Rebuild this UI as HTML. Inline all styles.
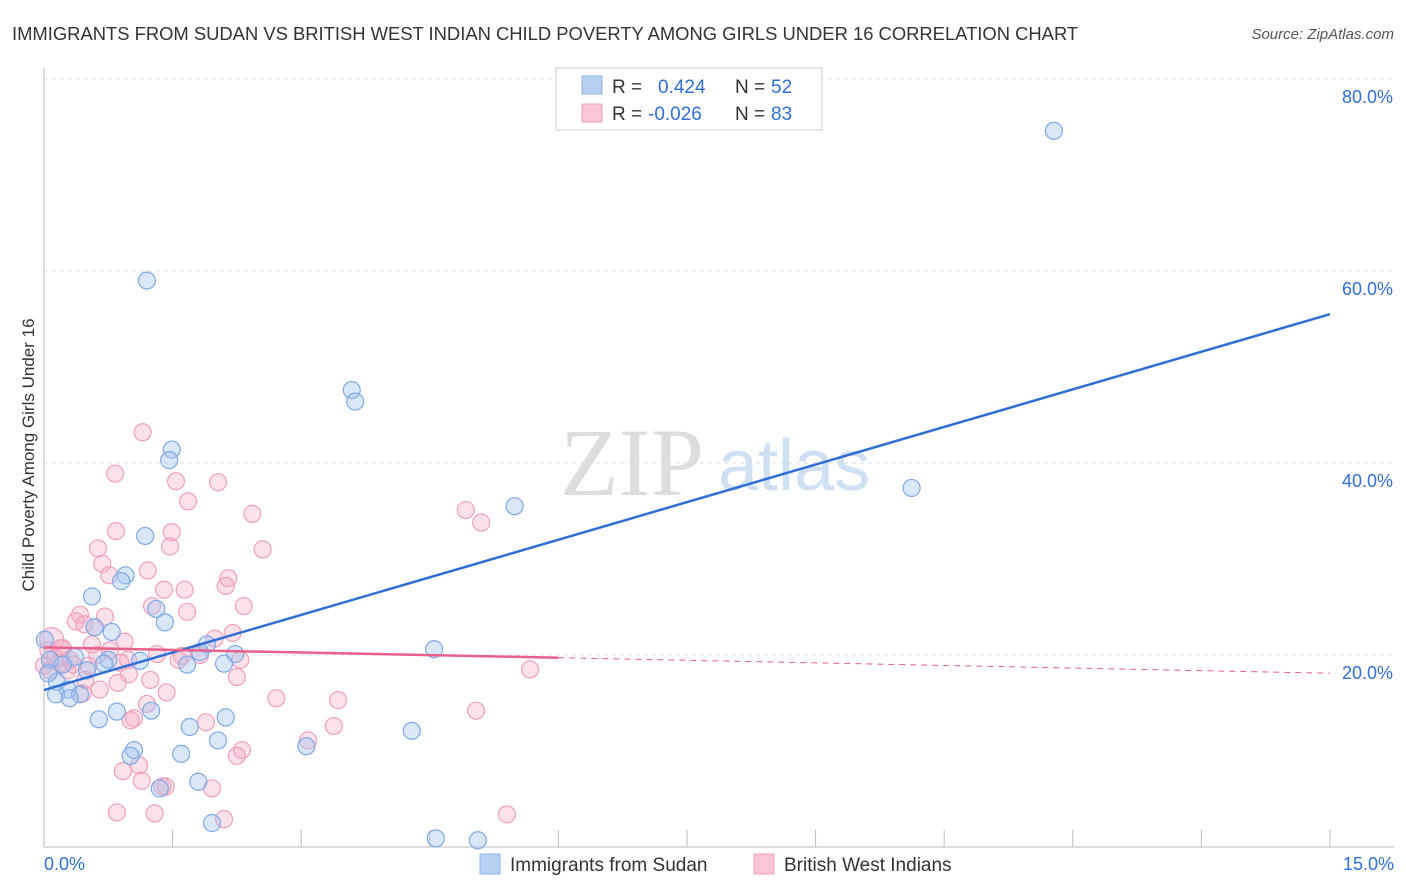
<!DOCTYPE html>
<html><head><meta charset="utf-8"><style>
body{margin:0;background:#fff;font-family:"Liberation Sans",sans-serif;}
svg{display:block}
</style></head><body>
<svg id="chart" width="1406" height="892" xmlns="http://www.w3.org/2000/svg">
<text x="12" y="40" font-size="18.4" fill="#333">IMMIGRANTS FROM SUDAN VS BRITISH WEST INDIAN CHILD POVERTY AMONG GIRLS UNDER 16 CORRELATION CHART</text>
<text x="1394" y="39" font-size="15" fill="#555" font-style="italic" text-anchor="end">Source: ZipAtlas.com</text>
<text transform="translate(34,455) rotate(-90)" font-size="17" fill="#333" text-anchor="middle">Child Poverty Among Girls Under 16</text>
<text x="560" y="495" font-size="96" fill="#ddd" font-family="Liberation Serif, serif">ZIP</text>
<text x="718" y="490" font-size="72" fill="#cfe0f3">atlas</text>
<g id="grid"></g><g id="axes"></g><g id="pts"></g><g id="lines"></g>
<g>
<rect x="556" y="68" width="266" height="62" fill="#fff" stroke="#ccc"/>
<rect x="582" y="76" width="20" height="18" fill="#b8d1f3" stroke="#8ab4e8"/>
<rect x="582" y="104" width="20" height="18" fill="#f8c6d6" stroke="#f0a0bc"/>
<text x="612" y="93" font-size="19" fill="#333">R =</text>
<text x="658" y="93" font-size="19" fill="#2f6fd6">0.424</text>
<text x="735" y="93" font-size="19" fill="#333">N =</text>
<text x="771" y="93" font-size="19" fill="#2f6fd6">52</text>
<text x="612" y="120" font-size="19" fill="#333">R =</text>
<text x="648" y="120" font-size="19" fill="#2f6fd6">-0.026</text>
<text x="735" y="120" font-size="19" fill="#333">N =</text>
<text x="771" y="120" font-size="19" fill="#2f6fd6">83</text>
</g>
<g>
<rect x="480" y="854" width="20" height="20" fill="#b8d1f3" stroke="#8ab4e8"/>
<text x="510" y="871" font-size="19" fill="#333">Immigrants from Sudan</text>
<rect x="754" y="854" width="20" height="20" fill="#f8c6d6" stroke="#f0a0bc"/>
<text x="784" y="871" font-size="19" fill="#333">British West Indians</text>
</g>
</svg>
<script>
const yTicks=[20,40,60,80];
const xTickLabels=["0.0%","15.0%"];
const blueX=[1.20,11.78,3.59,3.63,1.49,1.46,5.49,10.12,1.18,0.95,0.90,0.56,1.31,1.41,0.79,0.59,1.90,1.82,2.23,4.55,2.10,1.67,1.12,0.75,0.70,0.36,0.07,0.22,0.50,0.15,0.28,0.42,0.14,0.30,0.85,1.25,0.64,1.70,2.12,2.03,3.06,4.29,1.05,1.01,1.60,1.80,1.35,1.96,4.57,5.06,0.01,0.05];
const blueY=[59.0,74.6,47.6,46.4,41.4,40.3,35.5,37.4,32.4,28.3,27.7,26.1,24.8,23.4,22.4,22.9,21.1,20.3,20.1,20.6,19.1,19.0,19.4,19.5,19.1,19.8,19.5,19.0,18.4,17.2,16.4,15.9,15.9,15.5,14.1,14.2,13.3,12.5,13.5,11.1,10.5,12.1,10.1,9.5,9.7,6.8,6.1,2.5,0.9,0.7,21.6,18.1];
const pinkX=[1.15,0.83,1.54,2.03,1.68,2.43,4.92,5.10,0.84,1.49,0.63,1.47,2.55,0.68,1.21,0.76,2.15,2.12,1.40,1.64,1.26,2.33,1.67,0.42,0.71,0.37,0.47,0.59,2.20,0.94,1.99,0.09,0.56,0.22,0.05,1.32,1.61,0.62,0.13,0.98,1.57,0.89,0.19,0.34,0.52,0.0,0.27,0.99,2.25,0.86,5.67,1.43,0.45,2.71,3.43,1.20,1.89,1.05,1.01,3.38,5.04,3.08,2.31,2.25,0.92,1.11,1.14,1.42,1.96,1.38,0.85,1.29,2.10,5.40,0.19,0.30,0.77,1.82,0.48,1.24,2.29,0.65,0.07];
const pinkY=[43.2,38.9,38.1,38.0,36.0,34.7,35.1,33.8,32.9,32.8,31.1,31.3,31.0,29.5,28.8,28.3,28.0,27.2,26.8,26.8,25.1,25.1,24.5,24.2,24.0,23.5,23.2,22.9,22.3,21.4,21.7,21.6,21.1,20.7,20.5,20.1,19.9,20.0,19.7,19.5,19.5,19.2,19.1,19.0,18.9,18.9,18.4,18.0,17.7,17.1,18.5,16.1,16.0,15.5,15.3,14.9,13.0,13.4,13.2,12.6,14.2,11.1,10.1,9.5,7.9,8.5,6.9,6.3,6.1,6.3,3.6,3.5,2.9,3.4,20.7,19.5,20.5,20.0,17.4,17.4,19.5,16.4,18.4];
const blueLine=[16.35,55.5];
const pinkLine=[20.8,18.1];
const NS="http://www.w3.org/2000/svg";
const X=v=>44+v*85.73, Y=v=>847-v*9.6;
function mk(t,a,p){const e=document.createElementNS(NS,t);for(const k in a)e.setAttribute(k,a[k]);document.getElementById(p).appendChild(e);return e;}
yTicks.forEach(t=>{
 const l=mk('line',{x1:44,x2:1394,y1:Y(t),y2:Y(t),stroke:'#ddd','stroke-dasharray':'4,4'},'grid');
 
 
 const tx=mk('text',{x:1393,y:Y(t)+24,'font-size':18,fill:'#2f6fd6','text-anchor':'end'},'grid');
 tx.textContent=t.toFixed(1)+'%';
 
 
});
mk('line',{x1:44,x2:44,y1:68,y2:847,stroke:'#bbb'},'axes');
mk('line',{x1:44,x2:1394,y1:847,y2:847,stroke:'#bbb'},'axes');
for(let i=0;i<=10;i++){mk('line',{x1:X(i*1.5),x2:X(i*1.5),y1:830,y2:847,stroke:'#bbb'},'axes');}
const xl0=mk('text',{x:44,y:870,'font-size':18,fill:'#2f6fd6'},'axes');xl0.textContent=xTickLabels[0];


const xl1=mk('text',{x:1394,y:870,'font-size':18,fill:'#2f6fd6','text-anchor':'end'},'axes');xl1.textContent=xTickLabels[1];


pinkX.forEach((v,i)=>{const c=mk('circle',{cx:X(v),cy:Y(pinkY[i]),r:i==31?12:8.5,fill:'rgba(244,170,196,0.35)',stroke:'#f0a0bc','stroke-width':1.2},'pts');
 
 });
blueX.forEach((v,i)=>{const c=mk('circle',{cx:X(v),cy:Y(blueY[i]),r:8.5,fill:'rgba(160,196,240,0.4)',stroke:'#7eaae6','stroke-width':1.2},'pts');
 
 });
const bl=mk('line',{x1:X(0),y1:Y(blueLine[0]),x2:X(15),y2:Y(blueLine[1]),stroke:'#2f6fd6','stroke-width':2.5},'lines');


const pm=pinkLine[0]+(pinkLine[1]-pinkLine[0])*6/15;
const pl=mk('line',{x1:X(0),y1:Y(pinkLine[0]),x2:X(6),y2:Y(pm),stroke:'#e8608c','stroke-width':2.5},'lines');


const pd=mk('line',{x1:X(6),y1:Y(pm),x2:X(15),y2:Y(pinkLine[1]),stroke:'#e8608c','stroke-width':1,'stroke-dasharray':'6,5'},'lines');


</script>
</body></html>
